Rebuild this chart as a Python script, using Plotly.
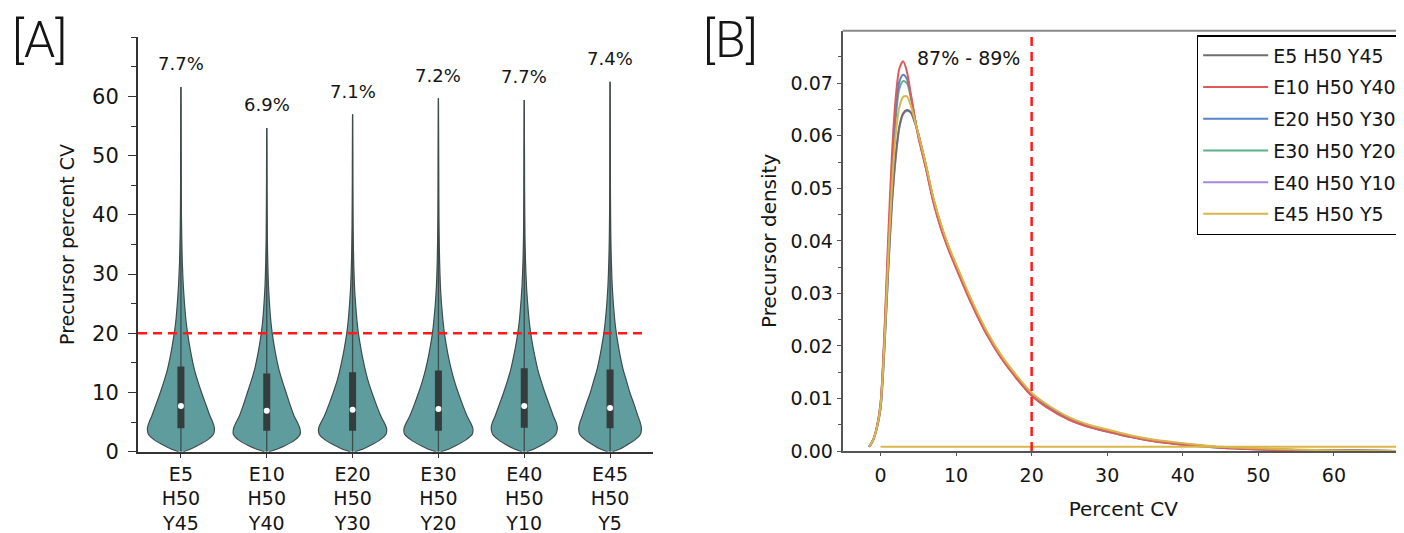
import plotly.graph_objects as go

# ---------------- data ----------------
groups = ["E5 H50 Y45", "E10 H50 Y40", "E20 H50 Y30", "E30 H50 Y20", "E40 H50 Y10", "E45 H50 Y5"]
tick_labels = ["E5<br>H50<br>Y45", "E10<br>H50<br>Y40", "E20<br>H50<br>Y30",
               "E30<br>H50<br>Y20", "E40<br>H50<br>Y10", "E45<br>H50<br>Y5"]

# violin panel (A): percent CV summary
medians = [7.7, 6.9, 7.1, 7.2, 7.7, 7.4]
q1 = [3.95, 3.55, 3.55, 3.55, 4.05, 3.95]
q3 = [14.4, 13.2, 13.4, 13.7, 14.1, 13.9]
max_cv = [61.6, 54.7, 57.0, 59.7, 59.4, 62.5]
median_labels = ["7.7%", "6.9%", "7.1%", "7.2%", "7.7%", "7.4%"]

# violin half-widths (category units) read at these CV levels
cv_levels = [0, 0.5, 1, 2, 3, 4, 5, 6, 8, 10, 12, 14, 16, 18, 20, 22, 25, 28, 32, 36, 40, 45, 50]
w_e5 = [0.03, 0.12, 0.19, 0.31, 0.38, 0.39, 0.37, 0.34, 0.29, 0.24, 0.195, 0.155, 0.125, 0.10, 0.078, 0.06, 0.042, 0.028, 0.016, 0.010, 0.006, 0.004, 0.003]
w_e10 = [0.03, 0.13, 0.21, 0.33, 0.39, 0.385, 0.355, 0.32, 0.27, 0.225, 0.18, 0.14, 0.11, 0.085, 0.064, 0.048, 0.032, 0.02, 0.012, 0.007, 0.005, 0.003, 0.002]
w_e20 = [0.03, 0.13, 0.20, 0.32, 0.39, 0.395, 0.365, 0.33, 0.275, 0.225, 0.18, 0.145, 0.115, 0.09, 0.068, 0.052, 0.035, 0.022, 0.013, 0.008, 0.005, 0.003, 0.002]
w_e30 = [0.03, 0.13, 0.20, 0.32, 0.395, 0.40, 0.37, 0.335, 0.28, 0.23, 0.185, 0.148, 0.117, 0.092, 0.07, 0.054, 0.036, 0.023, 0.014, 0.009, 0.006, 0.004, 0.003]
w_e40 = [0.03, 0.12, 0.19, 0.30, 0.37, 0.385, 0.37, 0.34, 0.29, 0.24, 0.195, 0.155, 0.125, 0.098, 0.076, 0.058, 0.04, 0.026, 0.015, 0.009, 0.006, 0.004, 0.003]
w_e45 = [0.03, 0.12, 0.18, 0.29, 0.355, 0.365, 0.35, 0.325, 0.28, 0.23, 0.19, 0.15, 0.12, 0.095, 0.073, 0.056, 0.038, 0.025, 0.015, 0.009, 0.006, 0.004, 0.003]
violin_widths = [w_e5, w_e10, w_e20, w_e30, w_e40, w_e45]

cv_threshold = 20

# density panel (B)
dens_x = [-1.5, -1, -0.5, 0, 0.5, 1, 1.5, 2, 2.5, 3, 3.5, 4, 4.5,
          5, 6, 7, 8, 9, 10, 12, 14, 16, 18, 20, 22, 25, 28, 30, 33, 36, 40, 45, 50, 55, 60, 65, 70]
dens_e5 = [0.0008, 0.002, 0.0042, 0.008, 0.019, 0.034, 0.047, 0.056, 0.0618, 0.0643, 0.0649, 0.0645, 0.0628,
           0.0605, 0.0545, 0.048, 0.043, 0.0388, 0.0352, 0.0285, 0.0226, 0.0179, 0.0141, 0.0108, 0.0086, 0.0061,
           0.0045, 0.0038, 0.0028, 0.002, 0.0013, 0.0007, 0.0004, 0.0002, 0.0001, 0.00005, 0.0]
dens_e10 = [0.0008, 0.002, 0.0045, 0.009, 0.022, 0.040, 0.056, 0.067, 0.0728, 0.0742, 0.0722, 0.068, 0.0638,
            0.0598, 0.0538, 0.0473, 0.0423, 0.0383, 0.0348, 0.0281, 0.0223, 0.0176, 0.0138, 0.0105, 0.0083, 0.0059,
            0.0044, 0.0037, 0.0027, 0.0019, 0.0012, 0.0006, 0.0003, 0.00015, 0.0001, 0.00005, 0.0]
dens_e20 = [0.0008, 0.002, 0.0044, 0.0088, 0.021, 0.038, 0.053, 0.0645, 0.0703, 0.0716, 0.0708, 0.0678, 0.0637,
            0.0600, 0.0540, 0.0475, 0.0425, 0.0385, 0.035, 0.0283, 0.0224, 0.0177, 0.0139, 0.0106, 0.0084, 0.006,
            0.0044, 0.0037, 0.0027, 0.0019, 0.0012, 0.0006, 0.0003, 0.00015, 0.0001, 0.00005, 0.0]
dens_e30 = [0.0008, 0.002, 0.0044, 0.0087, 0.0205, 0.037, 0.052, 0.063, 0.069, 0.0704, 0.0700, 0.0673, 0.0636,
            0.0601, 0.0541, 0.0476, 0.0426, 0.0386, 0.0351, 0.0284, 0.0225, 0.0178, 0.014, 0.0107, 0.0085, 0.006,
            0.0045, 0.0038, 0.0028, 0.002, 0.0013, 0.0007, 0.0004, 0.0002, 0.0001, 0.00005, 0.0]
dens_e40 = [0.0008, 0.002, 0.0042, 0.008, 0.019, 0.0335, 0.0465, 0.0555, 0.0615, 0.0641, 0.0647, 0.0644, 0.0627,
            0.0604, 0.0544, 0.0479, 0.0429, 0.0387, 0.0351, 0.0285, 0.0226, 0.0179, 0.0141, 0.0108, 0.0086, 0.0061,
            0.0046, 0.0039, 0.0029, 0.0021, 0.0014, 0.0007, 0.0004, 0.0002, 0.0001, 0.00005, 0.0]
dens_e45 = [0.0008, 0.002, 0.0043, 0.0085, 0.020, 0.036, 0.050, 0.060, 0.0655, 0.0674, 0.0675, 0.0658, 0.0632,
            0.0604, 0.0546, 0.0482, 0.0432, 0.0391, 0.0356, 0.0289, 0.023, 0.0182, 0.0144, 0.0111, 0.0089, 0.0064,
            0.0048, 0.0041, 0.003, 0.0022, 0.0015, 0.0008, 0.0005, 0.0003, 0.0001, 0.00005, 0.0]
densities = [dens_e5, dens_e10, dens_e20, dens_e30, dens_e40, dens_e45]
flat_x = [0, 70]
flat_y = [0.0008, 0.0008]
range_label = "87% - 89%"

# ---------------- styles ----------------
FONT = "DejaVu Sans"
TEXT = "#151515"
AXIS_A = "#333333"
AXIS_B = "#555555"
VIOLIN_FILL = "#5f9c9e"
VIOLIN_EDGE = "#3e4c4c"
BOX = "#353c3c"
line_colors = ["#6e6e6e", "#e05a5a", "#5584c8", "#5fae8e", "#a68ad8", "#d8b64a"]
draw_order = [4, 0, 3, 2, 1, 5]

# page body has an 8px margin: figure is sized/placed to compensate
W, H = 1396, 525
OFF = 8


def fx(px):
    return (px - OFF) / W


def fy(py):
    return 1 - (py - OFF) / H


fig = go.Figure()

# ---- panel A: violins ----
for i, w in enumerate(violin_widths):
    lv = cv_levels + [max_cv[i]]
    ww = w + [0.0]
    xs = [i - v for v in ww] + [i + v for v in reversed(ww)]
    ys = lv + list(reversed(lv))
    fig.add_trace(go.Scatter(x=xs, y=ys, xaxis="x", yaxis="y", mode="lines",
                             fill="toself", fillcolor=VIOLIN_FILL,
                             line=dict(color=VIOLIN_EDGE, width=1.2, shape="spline", smoothing=0.6),
                             showlegend=False, hoverinfo="skip"))
    fig.add_trace(go.Scatter(x=[i, i], y=[0, max_cv[i]], xaxis="x", yaxis="y", mode="lines",
                             line=dict(color=VIOLIN_EDGE, width=1.3), showlegend=False, hoverinfo="skip"))
    fig.add_trace(go.Scatter(x=[i, i], y=[q1[i], q3[i]], xaxis="x", yaxis="y", mode="lines",
                             line=dict(color=BOX, width=7), showlegend=False, hoverinfo="skip"))

fig.add_trace(go.Scatter(x=list(range(len(groups))), y=medians, xaxis="x", yaxis="y", mode="markers",
                         marker=dict(color="white", size=6, line=dict(width=0)),
                         showlegend=False, hoverinfo="skip"))

for i, lab in enumerate(median_labels):
    fig.add_annotation(x=i, y=max_cv[i] + 1.8, xref="x", yref="y", text=lab, showarrow=False,
                       xanchor="center", yanchor="bottom", font=dict(family=FONT, size=18, color=TEXT))

fig.add_shape(type="line", xref="x domain", yref="y", x0=0, x1=0.987, y0=cv_threshold, y1=cv_threshold,
              line=dict(color="#ff1a1a", width=2.5, dash="9px,6px"))

# ---- panel B: density curves ----
for k in draw_order:
    fig.add_trace(go.Scatter(x=dens_x, y=densities[k], xaxis="x2", yaxis="y2", mode="lines",
                             name=groups[k], legendrank=k + 1, legendgroup=groups[k],
                             line=dict(color=line_colors[k], width=2, shape="spline", smoothing=0.8)))
fig.add_trace(go.Scatter(x=flat_x, y=flat_y, xaxis="x2", yaxis="y2", mode="lines",
                         line=dict(color=line_colors[5], width=2), showlegend=False,
                         legendgroup=groups[5], hoverinfo="skip"))

fig.add_shape(type="line", xref="x2", yref="y2 domain", x0=cv_threshold, x1=cv_threshold, y0=0, y1=1,
              line=dict(color="#ff1a1a", width=2.5, dash="9px,6px"))
fig.add_shape(type="line", xref="x2 domain", yref="y2 domain", x0=0, x1=1, y0=1, y1=1,
              line=dict(color="#8a8a8a", width=2))

fig.add_annotation(x=11.6, y=0.0748, xref="x2", yref="y2", text=range_label, showarrow=False,
                   xanchor="center", yanchor="middle", font=dict(family=FONT, size=19, color=TEXT))

# panel labels
fig.add_annotation(x=fx(39.7), y=fy(40), xref="paper", yref="paper", text="[A]", showarrow=False,
                   xanchor="center", yanchor="middle",
                   font=dict(family="Roboto", size=50, color=TEXT, weight=300))
fig.add_annotation(x=fx(730.5), y=fy(40), xref="paper", yref="paper", text="[B]", showarrow=False,
                   xanchor="center", yanchor="middle",
                   font=dict(family="Roboto", size=50, color=TEXT, weight=300))

fig.update_layout(
    template="none",
    width=W, height=H,
    margin=dict(l=0, r=0, t=0, b=0),
    paper_bgcolor="white", plot_bgcolor="white",
    font=dict(family=FONT, size=19, color=TEXT),
    xaxis=dict(domain=[fx(138), fx(653)], range=[-0.5, 5.5], anchor="y",
               tickvals=list(range(len(groups))), ticktext=tick_labels,
               tickfont=dict(size=19), showline=True, linecolor=AXIS_A, linewidth=2,
               ticks="outside", ticklen=4, tickcolor=AXIS_A, showgrid=False, zeroline=False,
               automargin=False),
    yaxis=dict(domain=[fy(451.7), fy(37.3)], range=[0, 70], anchor="x",
               tickvals=[0, 10, 20, 30, 40, 50, 60], tickfont=dict(size=21),
               showline=True, linecolor=AXIS_A, linewidth=2,
               ticks="outside", ticklen=8, tickcolor=AXIS_A, ticklabelstandoff=5,
               minor=dict(tickvals=[5, 15, 25, 35, 45, 55, 65, 70], ticks="outside", ticklen=5, tickcolor=AXIS_A),
               showgrid=False, zeroline=False, automargin=False,
               title=dict(text="Precursor percent CV", font=dict(size=19), standoff=12)),
    xaxis2=dict(domain=[fx(842.7), 1.0], range=[-5, 69.27], anchor="y2",
                tickvals=[0, 10, 20, 30, 40, 50, 60], tickfont=dict(size=19),
                showline=True, linecolor=AXIS_B, linewidth=2,
                ticks="outside", ticklen=3, tickcolor=AXIS_B, ticklabelstandoff=3,
                showgrid=False, zeroline=False, automargin=False,
                title=dict(text="Percent CV", font=dict(size=20), standoff=17)),
    yaxis2=dict(domain=[fy(451), fy(30.7)], range=[0, 0.08], anchor="x2",
                tickvals=[0, 0.01, 0.02, 0.03, 0.04, 0.05, 0.06, 0.07], tickformat=".2f",
                tickfont=dict(size=19), showline=True, linecolor=AXIS_B, linewidth=2,
                ticks="outside", ticklen=4, tickcolor=AXIS_B,
                minor=dict(tickvals=[0.005, 0.015, 0.025, 0.035, 0.045, 0.055, 0.065, 0.075],
                           ticks="outside", ticklen=3, tickcolor=AXIS_B),
                showgrid=False, zeroline=False, automargin=False,
                title=dict(text="Precursor density", font=dict(size=20), standoff=9)),
    legend=dict(x=fx(1402.7), xanchor="right", y=fy(35), yanchor="top",
                bgcolor="white", bordercolor="#000000", borderwidth=1.5,
                font=dict(family=FONT, size=19, color=TEXT),
                traceorder="grouped", tracegroupgap=4, itemwidth=65),
    showlegend=True,
)

fig.write_html("out.html")
